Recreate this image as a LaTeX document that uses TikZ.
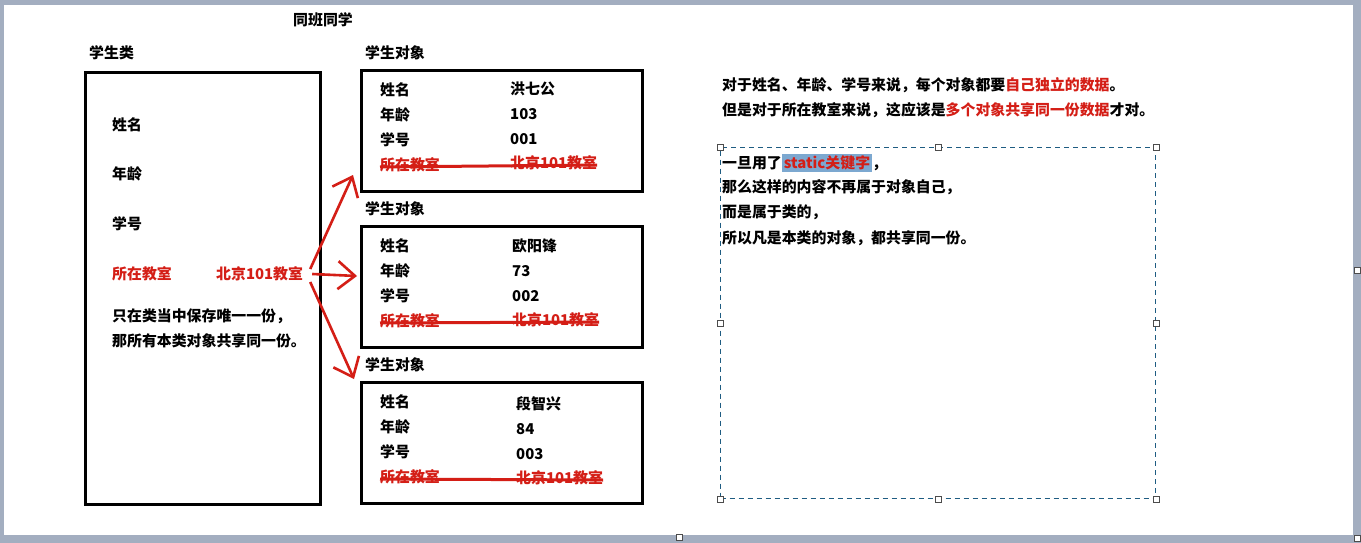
\documentclass[tikz,border=0pt]{standalone}
\usepackage{fontspec}
\setmainfont{Noto Sans CJK SC}
\usetikzlibrary{arrows.meta}

\definecolor{txtred}{RGB}{212,30,22}
\definecolor{hlblue}{RGB}{124,168,208}
\definecolor{boxblue}{RGB}{30,92,130}
\definecolor{framegray}{RGB}{163,174,192}

% one student object: id, top, name, age, number, value x, value dy
\newcommand{\studentobj}[7]{
    \node (#1lbl) at (365,#2-16) {学生对象};
    \node[objbox] (#1) at (360,#2) {};
    \node (#1k1) at (380,#2+21) {姓名};
    \node (#1k2) at (380,#2+46) {年龄};
    \node (#1k3) at (380,#2+71) {学号};
    \node[redtext] (#1k4) at (380,#2+96) {所在教室};
    \node (#1v1) at (#6,#2+21+#7) {#3};
    \node (#1v2) at (#6,#2+46+#7) {#4};
    \node (#1v3) at (#6,#2+71+#7) {#5};
    \node[redtext] (#1v4) at (#6,#2+95+#7) {北京101教室};
    \draw[strike] ([yshift=-2pt]#1k4.west) -- ([yshift=-2pt]#1v4.east);
}

\tikzset{x=1pt, y=-1pt, every node/.append style={font=\fontsize{14.9}{17}\selectfont\bfseries, inner sep=0pt, anchor=west}}
\tikzset{
    objbox/.style={draw, line width=3pt, minimum width=281pt, minimum height=121pt, anchor=north west},
    redtext/.style={text=txtred},
    strike/.style={draw=txtred, line width=3pt},
    redarrow/.style={draw=txtred, line width=2.6pt, -{Straight Barb[length=17pt, width=28pt, line width=2.6pt]}},
    handle/.style={draw=black!70, fill=white, line width=0.9pt, minimum size=6pt, inner sep=0pt, anchor=center},
}

\begin{document}
\begin{tikzpicture}
    % window frame
    \fill[framegray] (0,0) rectangle (1361,543);
    \fill[white] (4,5) rectangle (1353,535);

    \node (title) at (293,20) {同班同学};

    % the class
    \node (clslbl) at (89,53) {学生类};
    \node[draw, line width=3pt, minimum width=235pt, minimum height=432pt, anchor=north west] (cls) at (84,71) {};
    \node (clsname) at (112,125) {姓名};
    \node (clsage) at (112,174) {年龄};
    \node (clsnum) at (112,224) {学号};
    \node[redtext] (clsroomkey) at (112,274) {所在教室};
    \node[redtext] (clsroom) at (216,274) {北京101教室};
    \node (clsnote1) at (112,316) {只在类当中保存唯一一份，};
    \node (clsnote2) at (112,341) {那所有本类对象共享同一份。};

    % the objects
    \studentobj{obja}{69}{洪七公}{103}{001}{510}{-1}
    \studentobj{objb}{225}{欧阳锋}{73}{002}{512}{0}
    \studentobj{objc}{381}{段智兴}{84}{003}{516}{2}

    \draw[redarrow] ([xshift=7pt,yshift=5pt]clsroom.east) -- ([xshift=-7pt,yshift=18pt]obja.south west);
    \draw[redarrow] ([xshift=9pt]clsroom.east) -- ([xshift=-3pt,yshift=11pt]objb.west);
    \draw[redarrow] ([xshift=7pt,yshift=-8pt]clsroom.east) -- ([xshift=-6pt,yshift=2pt]objc.north west);

    % explanation
    \node (note1) at (722,85) {对于姓名、年龄、学号来说，每个对象都要\textcolor{txtred}{自己独立的数据}。};
    \node (note2) at (722,110) {但是对于所在教室来说，这应该是\textcolor{txtred}{多个对象共享同一份数据}才对。};

    \node[draw=boxblue, line width=1.1pt, dash pattern=on 5pt off 4pt, minimum width=435pt, minimum height=351pt, anchor=north west] (tbox) at (720,147) {};
    \foreach \a in {north west, north, north east, east, south east, south, south west, west}
        \node[handle] at (tbox.\a) {};
    \node (tline1) at (722,163) {一旦用了{\setlength\fboxsep{2pt}\colorbox{hlblue}{\textcolor{txtred}{static关键字}}}，};
    \node (tline2) at (722,187) {那么这样的内容不再属于对象自己，};
    \node (tline3) at (722,212) {而是属于类的，};
    \node (tline4) at (722,238) {所以凡是本类的对象，都共享同一份。};

    % canvas handles
    \node[handle] at (1357,270) {};
    \node[handle] at (1357,538) {};
    \node[handle] at (679,537) {};
\end{tikzpicture}
\end{document}
